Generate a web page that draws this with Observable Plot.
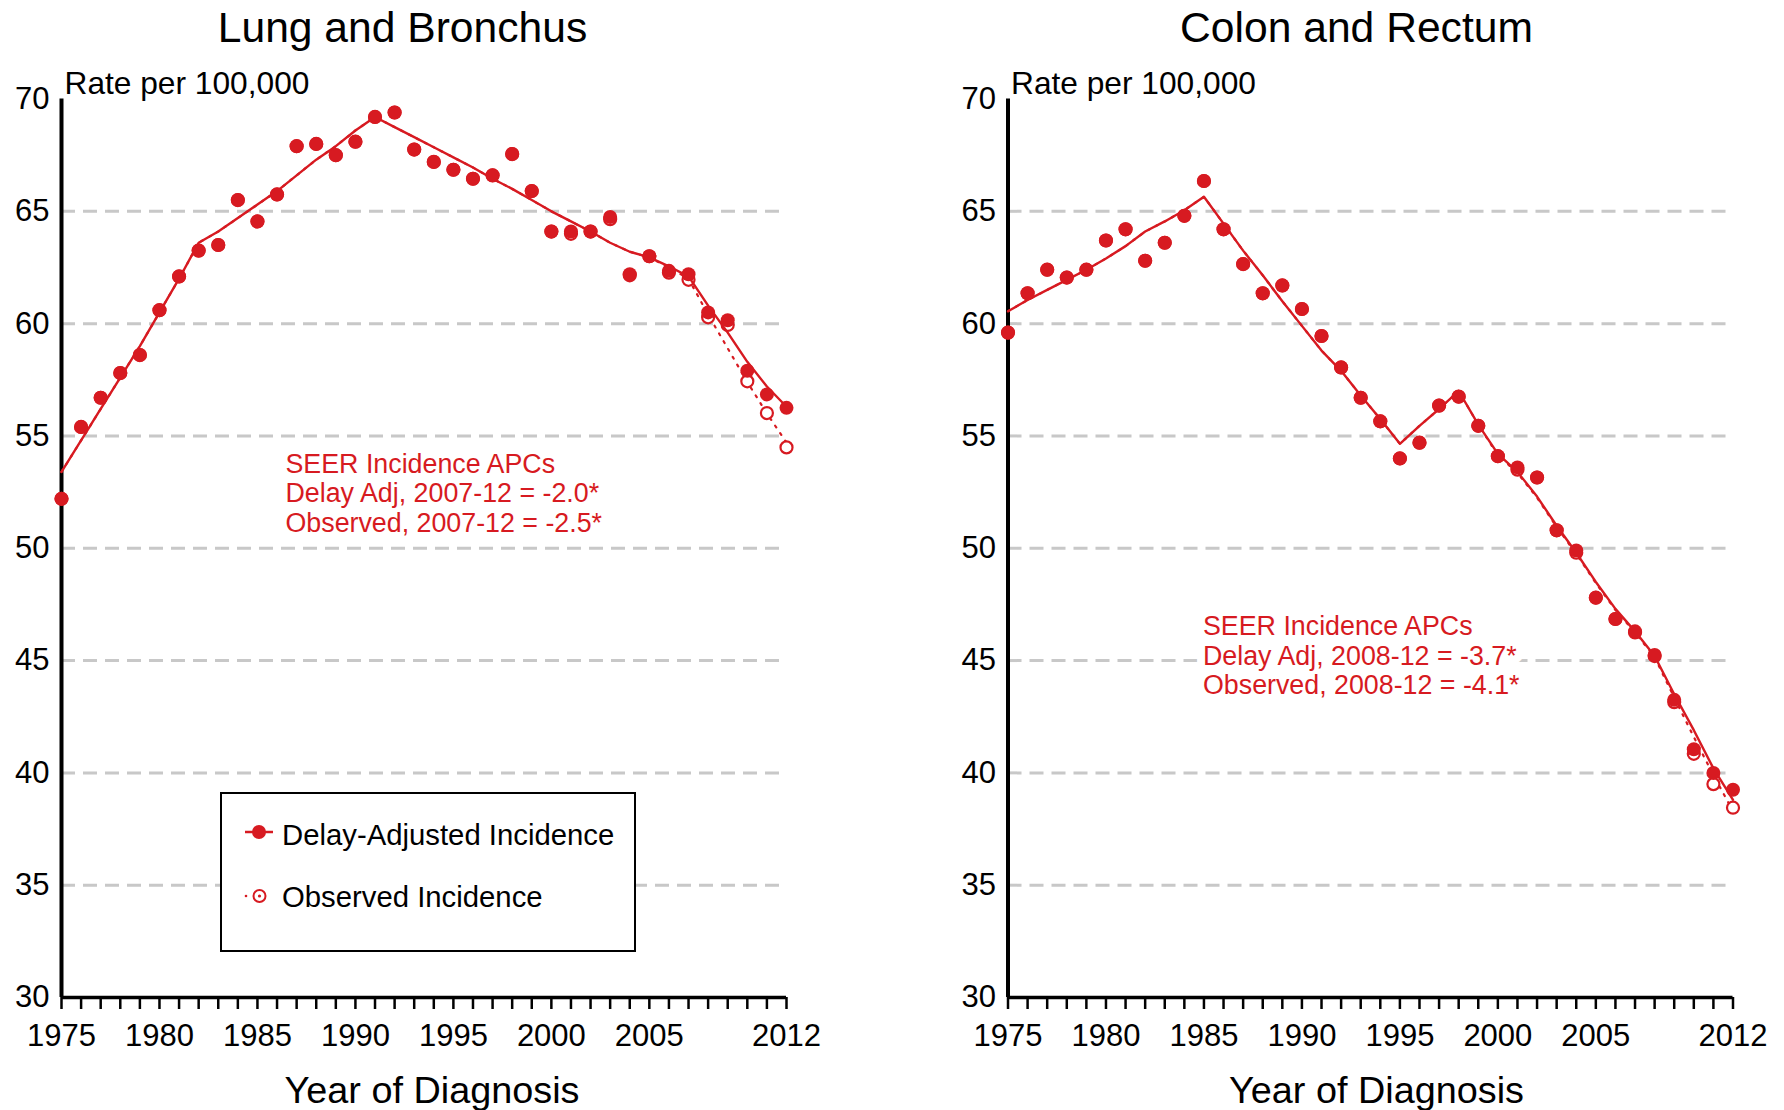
<!DOCTYPE html>
<html>
<head>
<meta charset="utf-8">
<script src="https://cdn.jsdelivr.net/npm/d3@7"></script>
<script src="https://cdn.jsdelivr.net/npm/@observablehq/plot@0.6"></script>
<style>
  html, body { margin: 0; padding: 0; background: #fff; }
  #wrap { position: relative; width: 1784px; height: 1110px; font-family: "Liberation Sans", Arial, sans-serif; }
  #left, #right { position: absolute; top: 0; }
  #left { left: 0; }
  #right { left: 892px; }
  #legend { position: absolute; left: 220px; top: 792px; width: 412px; height: 156px; border: 2.5px solid #000; background: #fff; }
  #legend svg { position: absolute; left: 0; top: 0; }
  .lg { position: absolute; left: 60px; font-size: 29.3px; color: #000; white-space: nowrap; line-height: 1; }
</style>
</head>
<body>
<div id="wrap">
  <div id="left"></div>
  <div id="right"></div>
  <div id="legend">
    <svg width="60" height="156">
      <line x1="23" x2="51" y1="38" y2="38" stroke="#d71a21" stroke-width="2.5"/>
      <circle cx="37" cy="38" r="7" fill="#d71a21"/>
      <circle cx="24" cy="102" r="1.3" fill="#d71a21"/>
      <circle cx="37.5" cy="102" r="6" fill="none" stroke="#d71a21" stroke-width="2"/>
      <circle cx="37.5" cy="102" r="1.6" fill="#d71a21"/>
    </svg>
    <div class="lg" style="top:26px">Delay-Adjusted Incidence</div>
    <div class="lg" style="top:88px">Observed Incidence</div>
  </div>
</div>
<script>
const years = [1975,1976,1977,1978,1979,1980,1981,1982,1983,1984,1985,1986,1987,1988,1989,1990,1991,1992,1993,1994,1995,1996,1997,1998,1999,2000,2001,2002,2003,2004,2005,2006,2007,2008,2009,2010,2011,2012];
const xTickLabels = [1975,1980,1985,1990,1995,2000,2005,2012];
const yTicks = [30,35,40,45,50,55,60,65,70];
const gridValues = [35,40,45,50,55,60,65];

// Lung and Bronchus
const lungDelay = [52.2,55.4,56.7,57.8,58.6,60.6,62.1,63.25,63.5,65.5,64.55,65.75,67.9,68.0,67.5,68.1,69.2,69.4,67.75,67.2,66.85,66.45,66.6,67.55,65.9,64.1,64.1,64.1,64.75,62.2,63.0,62.35,62.2,60.5,60.15,57.9,56.85,56.25];
const lungObserved = [52.2,55.4,56.7,57.8,58.6,60.6,62.1,63.25,63.5,65.5,64.55,65.75,67.9,68.0,67.5,68.1,69.2,69.4,67.75,67.2,66.85,66.45,66.6,67.55,65.9,64.1,64.0,64.1,64.65,62.15,63.0,62.27,61.95,60.28,59.94,57.43,56.02,54.49];
const lungDelayFit = [53.4,54.8,56.2,57.6,59.0,60.5,62.0,63.6,64.1,64.7,65.3,65.9,66.6,67.3,67.9,68.6,69.2,68.75,68.3,67.85,67.4,66.95,66.45,66.0,65.5,65.0,64.55,64.1,63.6,63.2,62.95,62.55,62.1,60.8,59.6,58.3,57.2,56.3];
const lungObservedFit = [53.4,54.8,56.2,57.6,59.0,60.5,62.0,63.6,64.1,64.7,65.3,65.9,66.6,67.3,67.9,68.6,69.2,68.75,68.3,67.85,67.4,66.95,66.45,66.0,65.5,65.0,64.55,64.1,63.6,63.2,62.95,62.5,62.0,60.4,58.9,57.4,56.0,54.7];

// Colon and Rectum
const colonDelay = [59.6,61.35,62.4,62.05,62.4,63.7,64.2,62.8,63.6,64.8,66.35,64.2,62.65,61.35,61.7,60.65,59.45,58.05,56.7,55.65,54.0,54.7,56.35,56.75,55.45,54.1,53.6,53.15,50.8,49.9,47.8,46.85,46.3,45.25,43.25,41.05,40.0,39.25];
const colonObserved = [59.6,61.35,62.4,62.05,62.4,63.7,64.2,62.8,63.6,64.8,66.35,64.2,62.65,61.35,61.7,60.65,59.45,58.05,56.7,55.65,54.0,54.7,56.35,56.75,55.45,54.1,53.5,53.15,50.8,49.8,47.8,46.85,46.25,45.2,43.15,40.85,39.5,38.45];
const colonDelayFit = [60.55,61.05,61.5,61.95,62.4,62.9,63.45,64.1,64.55,65.05,65.65,64.45,63.25,62.15,61.0,59.9,58.8,57.9,56.8,55.75,54.65,55.45,56.2,57.0,55.5,54.2,53.4,52.3,51.0,49.8,48.5,47.3,46.3,45.2,43.5,41.9,40.2,38.8];
const colonObservedFit = [60.55,61.05,61.5,61.95,62.4,62.9,63.45,64.1,64.55,65.05,65.65,64.45,63.25,62.15,61.0,59.9,58.8,57.9,56.8,55.75,54.65,55.45,56.2,57.0,55.5,54.15,53.35,52.25,50.95,49.75,48.45,47.25,46.25,45.15,43.35,41.6,39.9,38.3];

const RED = "#d71a21";
const FONT = "Liberation Sans, Arial, Helvetica, sans-serif";

function rows(vals) { return years.map((y, i) => ({year: y, value: vals[i]})); }

function panel(opts) {
  const {delay, observed, delayFit, observedFit, title, titleDx, ml, mr, annot, annotDx, annotDy, xlabDx} = opts;
  const annotText = annot.join("\n");
  const annotBase = {frameAnchor: "top-left", dx: annotDx, dy: annotDy, textAnchor: "start", lineAnchor: "top", fontSize: 26.8, lineHeight: 1.1};
  return Plot.plot({
    width: 892,
    height: 1110,
    marginLeft: ml,
    marginRight: mr,
    marginTop: 98.5,
    marginBottom: 113,
    x: {domain: [1975, 2012]},
    y: {domain: [30, 70]},
    style: {fontFamily: FONT, background: "transparent", color: "#000", overflow: "visible"},
    marks: [
      Plot.ruleY(gridValues, {stroke: "#c8c8c8", strokeWidth: 3, strokeDasharray: "14,8"}),
      Plot.axisY({ticks: yTicks, tickSize: 0, tickPadding: 12, fontSize: 31, label: null, tickFormat: d => String(d)}),
      Plot.axisX({ticks: years, tickSize: 12, tickPadding: 14, fontSize: 31, label: null, strokeWidth: 2.5,
        tickFormat: d => xTickLabels.includes(d) ? String(d) : ""}),
      Plot.ruleX([1975], {y1: 30, y2: 70, stroke: "#000", strokeWidth: 4}),
      Plot.ruleY([30], {x1: 1975, x2: 2012, stroke: "#000", strokeWidth: 3.5}),
      Plot.text([annotText], {...annotBase, fill: "white", stroke: "white", strokeWidth: 16}),
      Plot.text([annotText], {...annotBase, fill: RED}),
      Plot.line(rows(observedFit), {x: "year", y: "value", stroke: RED, strokeWidth: 2.2, strokeDasharray: "2,7"}),
      Plot.dot(rows(observed), {x: "year", y: "value", r: 6, stroke: RED, strokeWidth: 2.2, fill: "white"}),
      Plot.line(rows(delayFit), {x: "year", y: "value", stroke: RED, strokeWidth: 2.4}),
      Plot.dot(rows(delay), {x: "year", y: "value", r: 7, fill: RED, stroke: "none"}),
      Plot.text([title], {frameAnchor: "top", dx: titleDx, dy: -56.8, lineAnchor: "bottom", fontSize: 42.6, fill: "#000"}),
      Plot.text(["Rate per 100,000"], {frameAnchor: "top-left", dx: 3, dy: -5.2, textAnchor: "start", lineAnchor: "bottom", fontSize: 31.7, fill: "#000"}),
      Plot.text(["Year of Diagnosis"], {frameAnchor: "bottom", dx: xlabDx, dy: 105, lineAnchor: "bottom", fontSize: 37.8, fill: "#000"})
    ]
  });
}

document.getElementById("left").appendChild(panel({
  delay: lungDelay, observed: lungObserved, delayFit: lungDelayFit, observedFit: lungObservedFit,
  title: "Lung and Bronchus", titleDx: -21.5, ml: 61, mr: 106, xlabDx: 8,
  annot: ["SEER Incidence APCs", "Delay Adj, 2007-12 = -2.0*", "Observed, 2007-12 = -2.5*"],
  annotDx: 224, annotDy: 353
}));
document.getElementById("right").appendChild(panel({
  delay: colonDelay, observed: colonObserved, delayFit: colonDelayFit, observedFit: colonObservedFit,
  title: "Colon and Rectum", titleDx: -14, ml: 115.5, mr: 51.5, xlabDx: 6,
  annot: ["SEER Incidence APCs", "Delay Adj, 2008-12 = -3.7*", "Observed, 2008-12 = -4.1*"],
  annotDx: 195, annotDy: 515.5
}));
</script>
</body>
</html>
